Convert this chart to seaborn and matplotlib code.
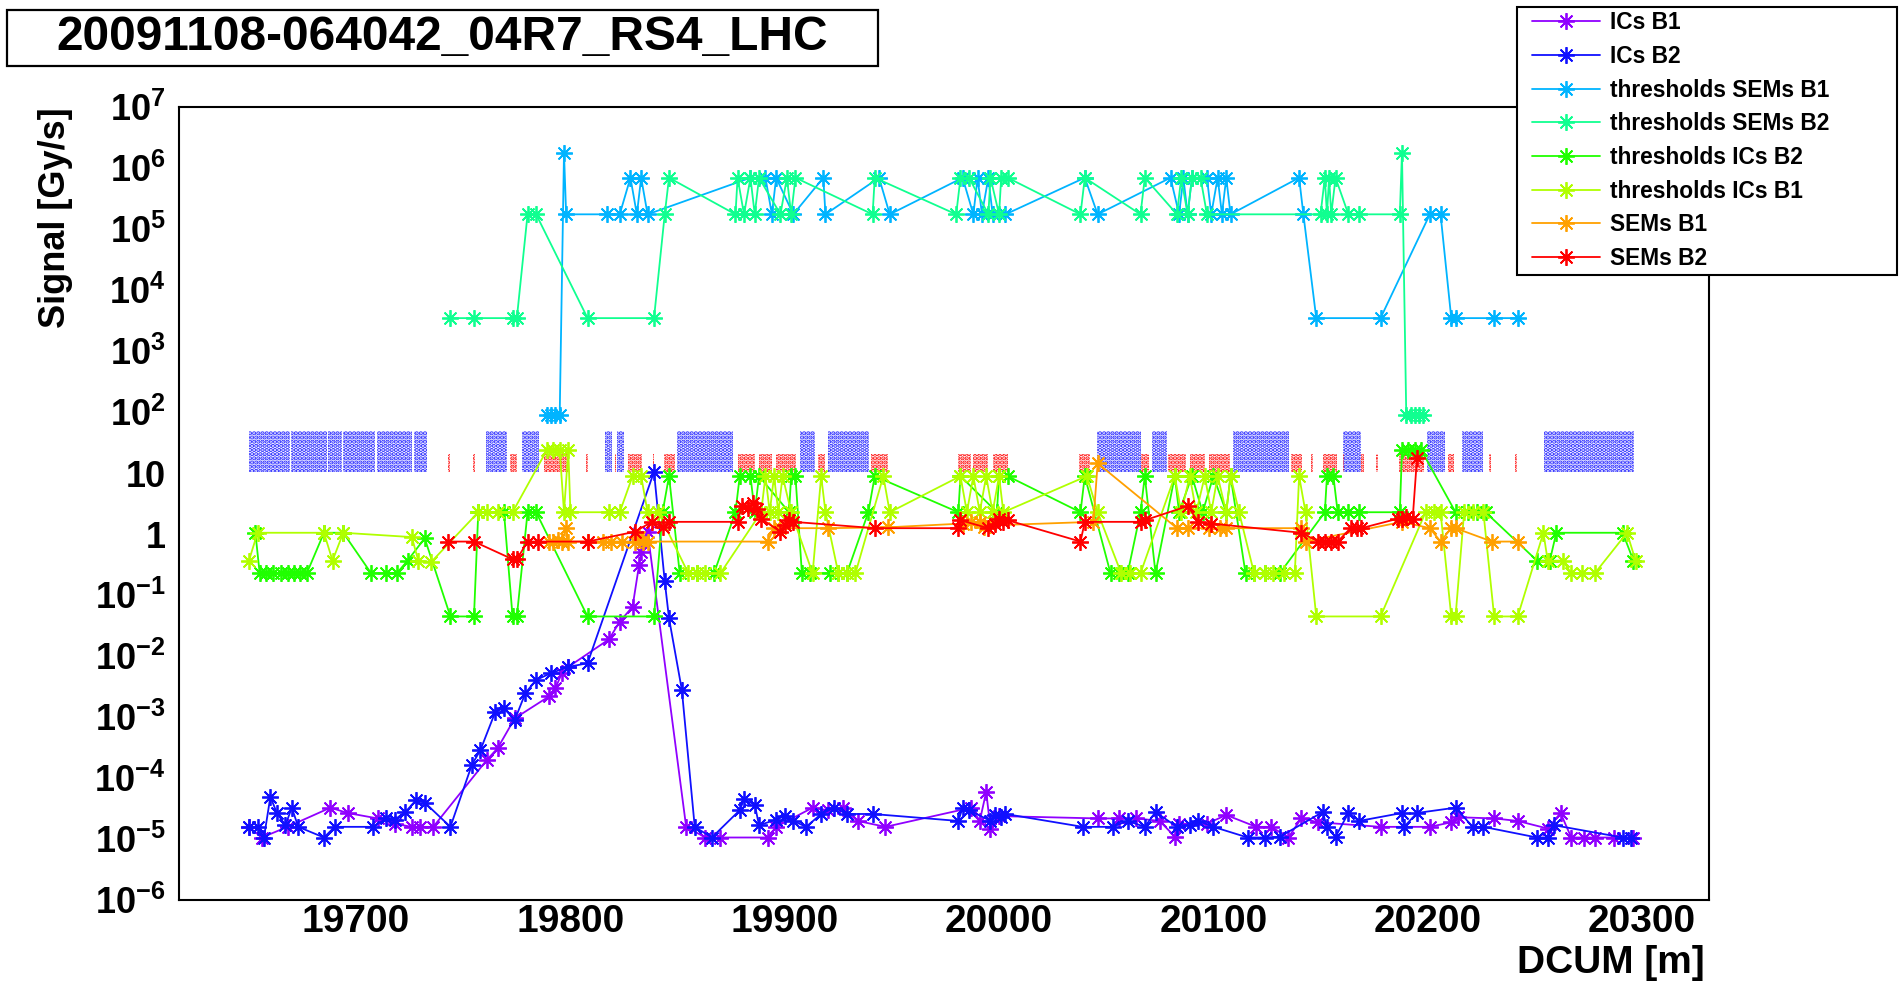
import numpy as np
import pandas as pd
import matplotlib
matplotlib.use("Agg")
import matplotlib.pyplot as plt
import matplotlib.ticker as mticker
from matplotlib.lines import Line2D
from matplotlib.legend_handler import HandlerLine2D
from matplotlib.patches import Rectangle
import seaborn as sns

# ---------------- data ----------------
title_text = "20091108-064042_04R7_RS4_LHC"
x_label = "DCUM [m]"
y_label = "Signal [Gy/s]"

series_names = ["ICs B1", "ICs B2", "thresholds SEMs B1", "thresholds SEMs B2",
                "thresholds ICs B2", "thresholds ICs B1", "SEMs B1", "SEMs B2"]
series_colors = ["#9000ff", "#1010ff", "#00b4ff", "#10ff90",
                 "#20ff00", "#b0ff00", "#ffa000", "#ff0000"]

ics_b1_x = [19650, 19656, 19668, 19688, 19696, 19710, 19718, 19726, 19730, 19736,
            19761, 19766, 19774, 19790, 19793, 19796, 19799, 19818, 19823, 19829,
            19832, 19833, 19836, 19854, 19863, 19870, 19892, 19896, 19913, 19920,
            19927, 19934, 19947, 19987, 19991, 19994, 19996, 20000, 20046, 20056,
            20064, 20075, 20082, 20084, 20097, 20106, 20120, 20127, 20135, 20141,
            20149, 20178, 20201, 20211, 20214, 20231, 20242, 20256, 20262, 20267,
            20273, 20278, 20287, 20296]
ics_b1_y = [1.6e-5, 1.07e-5, 1.6e-5, 3.3e-5, 2.7e-5, 2.2e-5, 1.8e-5, 1.6e-5, 1.6e-5, 1.6e-5,
            2.0e-4, 3.1e-4, 9.6e-4, 2.2e-3, 3.0e-3, 5.3e-3, 6.7e-3, 1.9e-2, 3.7e-2, 6.5e-2,
            0.31, 0.52, 1.1, 1.6e-5, 1.07e-5, 1.07e-5, 1.07e-5, 1.6e-5, 3.3e-5, 3.0e-5,
            3.2e-5, 2.0e-5, 1.6e-5, 3.3e-5, 2.0e-5, 6.0e-5, 1.5e-5, 2.4e-5, 2.2e-5, 2.2e-5,
            2.2e-5, 2.0e-5, 1.1e-5, 1.8e-5, 1.8e-5, 2.5e-5, 1.6e-5, 1.6e-5, 1.07e-5, 2.2e-5,
            1.9e-5, 1.6e-5, 1.6e-5, 1.9e-5, 2.3e-5, 2.2e-5, 2.0e-5, 1.5e-5, 2.7e-5, 1.07e-5,
            1.07e-5, 1.07e-5, 1.07e-5, 1.07e-5]

ics_b2_x = [19650, 19654, 19657, 19660, 19663, 19667, 19670, 19673, 19685, 19690,
            19708, 19714, 19718, 19723, 19728, 19732, 19744, 19754, 19758, 19765,
            19769, 19774, 19779, 19784, 19791, 19799, 19808, 19839, 19844, 19846,
            19852, 19858, 19866, 19879, 19881, 19886, 19888, 19896, 19900, 19904,
            19910, 19917, 19923, 19929, 19941, 19981, 19983, 19986, 19996, 19998,
            20001, 20003, 20039, 20053, 20060, 20068, 20073, 20083, 20089, 20093,
            20100, 20116, 20124, 20131, 20151, 20153, 20157, 20163, 20168, 20188,
            20189, 20195, 20213, 20221, 20226, 20251, 20256, 20259, 20291, 20295]
ics_b2_y = [1.6e-5, 1.6e-5, 1.07e-5, 5.0e-5, 2.7e-5, 1.7e-5, 3.3e-5, 1.6e-5, 1.07e-5, 1.6e-5,
            1.6e-5, 2.2e-5, 2.1e-5, 2.8e-5, 4.4e-5, 4.0e-5, 1.6e-5, 1.66e-4, 2.9e-4, 1.24e-3,
            1.4e-3, 9.0e-4, 2.5e-3, 4.1e-3, 5.3e-3, 6.7e-3, 7.7e-3, 10.6, 0.17, 0.042,
            2.8e-3, 1.6e-5, 1.07e-5, 3.0e-5, 4.5e-5, 3.7e-5, 1.7e-5, 2.1e-5, 2.4e-5, 2.0e-5,
            1.6e-5, 2.6e-5, 3.3e-5, 2.6e-5, 2.6e-5, 2.0e-5, 3.3e-5, 3.0e-5, 2.0e-5, 2.5e-5,
            2.3e-5, 2.6e-5, 1.6e-5, 1.6e-5, 2.0e-5, 1.6e-5, 2.8e-5, 1.6e-5, 1.7e-5, 2.0e-5,
            1.6e-5, 1.07e-5, 1.07e-5, 1.1e-5, 2.8e-5, 1.6e-5, 1.1e-5, 2.7e-5, 2.0e-5, 2.7e-5,
            1.6e-5, 2.7e-5, 3.3e-5, 1.6e-5, 1.6e-5, 1.07e-5, 1.07e-5, 1.7e-5, 1.07e-5, 1.07e-5]

thr_sem_b1_x = [19789, 19791, 19793, 19795, 19797, 19798, 19817, 19823, 19828, 19831,
                19833, 19836, 19884, 19891, 19894, 19896, 19904, 19918, 19919, 19944,
                19949, 19983, 19988, 19990, 19992, 19995, 19997, 20003, 20040, 20046,
                20080, 20084, 20086, 20088, 20090, 20097, 20099, 20102, 20104, 20106,
                20108, 20140, 20142, 20148, 20178, 20201, 20206, 20211, 20213, 20231,
                20242]
thr_sem_b1_y = [92, 92, 92, 92, 1.8e6, 1.76e5, 1.76e5, 1.76e5, 7e5, 1.76e5,
                7e5, 1.76e5, 7e5, 7e5, 1.76e5, 7e5, 1.76e5, 7e5, 1.76e5, 7e5,
                1.76e5, 7e5, 1.76e5, 7e5, 1.76e5, 7e5, 1.76e5, 1.76e5, 7e5, 1.76e5,
                7e5, 1.76e5, 7e5, 1.76e5, 7e5, 7e5, 1.76e5, 7e5, 1.76e5, 7e5,
                1.76e5, 7e5, 1.76e5, 3.5e3, 3.5e3, 1.76e5, 1.76e5, 3.5e3, 3.5e3, 3.5e3,
                3.5e3]

thr_sem_b2_x = [19744, 19755, 19773, 19775, 19780, 19784, 19808, 19839, 19844, 19846,
                19877, 19878, 19881, 19884, 19886, 19888, 19898, 19901, 19903, 19905,
                19941, 19942, 19980, 19982, 19986, 19995, 19996, 20000, 20001, 20004,
                20038, 20040, 20066, 20068, 20083, 20085, 20088, 20090, 20094, 20097,
                20150, 20152, 20153, 20154, 20155, 20157, 20163, 20168, 20187, 20188,
                20190, 20192, 20194, 20196, 20198]
thr_sem_b2_y = [3.5e3, 3.5e3, 3.5e3, 3.5e3, 1.76e5, 1.76e5, 3.5e3, 3.5e3, 1.76e5, 7e5,
                1.76e5, 7e5, 1.76e5, 7e5, 1.76e5, 7e5, 1.76e5, 7e5, 1.76e5, 7e5,
                1.76e5, 7e5, 1.76e5, 7e5, 7e5, 1.76e5, 7e5, 1.76e5, 7e5, 7e5,
                1.76e5, 7e5, 1.76e5, 7e5, 1.76e5, 7e5, 1.76e5, 7e5, 7e5, 1.76e5,
                1.76e5, 7e5, 1.76e5, 7e5, 1.76e5, 7e5, 1.76e5, 1.76e5, 1.76e5, 1.8e6,
                92, 92, 92, 92, 92]

thr_ic_b2_x = [19653, 19655, 19658, 19661, 19665, 19668, 19671, 19674, 19677, 19685,
               19694, 19707, 19714, 19719, 19724, 19732, 19744, 19755, 19757, 19769,
               19773, 19775, 19780, 19784, 19808, 19839, 19843, 19846, 19851, 19859,
               19867, 19877, 19879, 19884, 19886, 19888, 19902, 19903, 19905, 19908,
               19912, 19921, 19925, 19929, 19939, 19942, 19981, 19982, 19999, 20000,
               20004, 20038, 20040, 20052, 20056, 20060, 20066, 20068, 20073, 20082,
               20084, 20090, 20095, 20100, 20106, 20108, 20115, 20119, 20124, 20131,
               20152, 20153, 20156, 20158, 20163, 20168, 20187, 20188, 20191, 20194,
               20197, 20213, 20219, 20223, 20227, 20251, 20257, 20260, 20291, 20296]
thr_ic_b2_y = [1.06, 0.23, 0.23, 0.23, 0.23, 0.23, 0.23, 0.23, 0.23, 1.06,
               1.06, 0.23, 0.23, 0.23, 0.37, 0.86, 0.045, 0.045, 2.3, 2.3,
               0.045, 0.045, 2.3, 2.3, 0.045, 0.045, 2.3, 9, 0.23, 0.23,
               0.23, 2.3, 9, 9, 2.3, 9, 2.3, 9, 9, 0.23,
               0.23, 0.23, 0.23, 0.23, 2.3, 9, 2.3, 9, 2.3, 9,
               9, 2.3, 9, 0.23, 0.23, 0.23, 2.3, 9, 0.23, 9,
               2.3, 9, 2.3, 9, 2.3, 9, 0.23, 0.23, 0.23, 0.23,
               2.3, 9, 9, 2.3, 2.3, 2.3, 2.3, 24, 24, 24,
               24, 2.3, 2.3, 2.3, 2.3, 0.37, 0.37, 1.06, 1.06, 0.37]

thr_ic_b1_x = [19650, 19654, 19685, 19689, 19694, 19726, 19729, 19735, 19757, 19761,
               19766, 19773, 19789, 19792, 19795, 19797, 19799, 19800, 19818, 19823,
               19829, 19833, 19836, 19841, 19855, 19859, 19863, 19870, 19889, 19891,
               19893, 19895, 19897, 19899, 19903, 19913, 19917, 19919, 19925, 19929,
               19933, 19946, 19949, 19982, 19985, 19988, 19991, 19994, 19997, 20000,
               20002, 20041, 20046, 20057, 20061, 20066, 20082, 20085, 20089, 20092,
               20096, 20099, 20102, 20106, 20108, 20112, 20119, 20124, 20128, 20133,
               20138, 20140, 20143, 20148, 20178, 20199, 20203, 20206, 20211, 20213,
               20217, 20221, 20226, 20231, 20242, 20254, 20256, 20263, 20267, 20272,
               20278, 20293, 20297]
thr_ic_b1_y = [0.37, 1.06, 1.06, 0.37, 1.06, 0.9, 0.37, 0.35, 2.3, 2.3,
               2.3, 2.3, 24, 24, 24, 2.3, 24, 2.3, 2.3, 2.3,
               9, 9, 2.3, 2.3, 0.23, 0.23, 0.23, 0.23, 2.3, 9,
               2.3, 9, 2.3, 9, 2.3, 0.23, 9, 2.3, 0.23, 0.23,
               0.23, 9, 2.3, 9, 2.3, 9, 2.3, 9, 2.3, 9,
               2.3, 9, 2.3, 0.23, 0.23, 0.23, 9, 2.3, 9, 2.3,
               9, 2.3, 9, 2.3, 9, 2.3, 0.23, 0.23, 0.23, 0.23,
               0.23, 9, 2.3, 0.045, 0.045, 2.3, 2.3, 2.3, 0.045, 0.045,
               2.3, 2.3, 2.3, 0.045, 0.045, 1.06, 0.37, 0.37, 0.23, 0.23,
               0.23, 1.06, 0.37]

sem_b1_x = [19790, 19792, 19794, 19796, 19798, 19799, 19808, 19815, 19819, 19824,
            19830, 19832, 19834, 19836, 19892, 19895, 19898, 19920, 19948, 19983,
            19987, 19991, 19993, 19996, 20044, 20046, 20083, 20088, 20098, 20103,
            20106, 20141, 20143, 20188, 20201, 20206, 20211, 20213, 20230, 20242]
sem_b1_y = [0.76, 0.76, 0.8, 0.76, 1.26, 0.76, 0.76, 0.76, 0.76, 0.76,
            0.76, 0.9, 0.76, 0.76, 0.76, 1.26, 1.26, 1.26, 1.3, 1.5,
            1.6, 1.6, 1.3, 1.4, 1.6, 14.6, 1.26, 1.26, 1.26, 1.26,
            1.26, 1.26, 0.76, 1.6, 1.26, 0.76, 1.26, 1.26, 0.76, 0.76]

sem_b2_x = [19743, 19755, 19773, 19775, 19780, 19785, 19808, 19830, 19838, 19843,
            19846, 19878, 19880, 19883, 19885, 19887, 19889, 19898, 19900, 19902,
            19904, 19942, 19981, 19982, 19995, 19998, 20000, 20002, 20004, 20038,
            20040, 20066, 20068, 20088, 20093, 20099, 20141, 20149, 20152, 20155,
            20158, 20164, 20167, 20169, 20186, 20188, 20190, 20193, 20195]
sem_b2_y = [0.76, 0.76, 0.39, 0.39, 0.76, 0.76, 0.76, 1.1, 1.6, 1.3,
            1.6, 1.6, 2.9, 2.7, 3.2, 2.6, 1.8, 1.1, 1.4, 1.7,
            1.6, 1.26, 1.26, 1.7, 1.26, 1.5, 1.8, 1.6, 1.7, 0.76,
            1.6, 1.6, 1.7, 2.9, 1.6, 1.5, 1.06, 0.76, 0.76, 0.76,
            0.76, 1.26, 1.26, 1.26, 1.8, 1.8, 1.9, 1.8, 17.6]

series_x = [ics_b1_x, ics_b2_x, thr_sem_b1_x, thr_sem_b2_x,
            thr_ic_b2_x, thr_ic_b1_x, sem_b1_x, sem_b2_x]
series_y = [ics_b1_y, ics_b2_y, thr_sem_b1_y, thr_sem_b2_y,
            thr_ic_b2_y, thr_ic_b1_y, sem_b1_y, sem_b2_y]

# dotted status boxes (DCUM ranges)
blue_box_start = [19650, 19669.5, 19687, 19694, 19709.6, 19727, 19760.5, 19777.5, 19816.3,
                  19821.7, 19849.6, 19907, 19920, 20045.7, 20071.3, 20109.3, 20160.7,
                  20199.9, 20216.2, 20254.5]
blue_box_end = [19669, 19686.5, 19693.5, 19709, 19726, 19733, 19770.6, 19785.3, 19819.4,
                19824.8, 19876, 19914, 19939.5, 20066, 20078.2, 20135.4, 20168.9,
                20208, 20226, 20296.2]
blue_box_low, blue_box_high = 10.5, 50.0

red_box_start = [19743, 19754.7, 19772, 19787.6, 19807.5, 19820.7, 19827, 19838.5, 19843.8,
                 19878, 19888, 19896, 19915.5, 19940.3, 19981, 19988, 19997, 20037.2,
                 20066, 20079, 20089, 20098, 20136.3, 20145.7, 20151, 20160.5, 20169,
                 20176, 20186.8, 20209.7, 20228.8, 20240.7]
red_box_end = [19744, 19755.6, 19775.2, 19799.3, 19808.3, 19821.3, 19833.4, 19839.2, 19848.8,
               19886, 19894, 19905.4, 19918.6, 19948, 19987, 19995, 20004, 20042.6,
               20070, 20087, 20096, 20107.7, 20141.2, 20146.3, 20157.5, 20161, 20170.5,
               20176.6, 20198.3, 20212.1, 20229.4, 20241.5]
red_box_low, red_box_high = 10.5, 21.0

# ---------------- style ----------------
sns.set_theme(style="white")
plt.rcParams["font.family"] = ["Liberation Sans", "DejaVu Sans"]
plt.rcParams["font.weight"] = "bold"
plt.rcParams["mathtext.fontset"] = "custom"
plt.rcParams["mathtext.rm"] = "Liberation Sans:bold"
plt.rcParams["mathtext.bf"] = "Liberation Sans:bold"
plt.rcParams["mathtext.default"] = "rm"
for k in ["text.color", "axes.labelcolor", "xtick.color", "ytick.color", "axes.edgecolor"]:
    plt.rcParams[k] = "black"
plt.rcParams["hatch.linewidth"] = 2.2

W, H = 1901, 988
fig = plt.figure(figsize=(W / 100, H / 100), dpi=100)
fig.patch.set_facecolor("white")
ax_l, ax_r, ax_t, ax_b = 179.3, 1709.3, 107.3, 900.3
ax = fig.add_axes([ax_l / W, 1 - ax_b / H, (ax_r - ax_l) / W, (ax_b - ax_t) / H])
ax.set_facecolor("white")

# status boxes
bs = np.array(blue_box_start); be = np.array(blue_box_end)
ax.bar(bs, blue_box_high - blue_box_low, width=be - bs, bottom=blue_box_low, align="edge",
       facecolor="none", edgecolor="#2828ff", linewidth=0, hatch="....", zorder=1)
rs = np.array(red_box_start); re_ = np.array(red_box_end)
ax.bar(rs, red_box_high - red_box_low, width=re_ - rs, bottom=red_box_low, align="edge",
       facecolor="none", edgecolor="#ff1010", linewidth=0, hatch="....", zorder=1.1)

star = (8, 2, 0)
handles = []
for name, col, xs, ys in zip(series_names, series_colors, series_x, series_y):
    df = pd.DataFrame({"DCUM": xs, "signal": ys})
    n_before = len(ax.lines)
    sns.lineplot(data=df, x="DCUM", y="signal", ax=ax, sort=False, estimator=None,
                 color=col, linewidth=1.3, marker=star, markersize=12,
                 markeredgecolor=col, markeredgewidth=1.3, label=name, legend=False,
                 zorder=3)
    handles.append(ax.lines[n_before])

ax.set_yscale("log")
ax.set_ylim(1e-6, 1e7)
ax.set_xlim(19617.5, 20331.4)

ax.xaxis.set_major_locator(mticker.MultipleLocator(100))
ax.xaxis.set_minor_locator(mticker.MultipleLocator(20))
ax.yaxis.set_major_locator(mticker.LogLocator(base=10, numticks=30))
ax.yaxis.set_minor_locator(mticker.LogLocator(base=10, subs=np.arange(2, 10), numticks=30))

def yfmt(v, pos):
    e = int(round(np.log10(v)))
    if e == 0:
        return "1"
    if e == 1:
        return "10"
    return r"$10^{%d}$" % e
ax.yaxis.set_major_formatter(mticker.FuncFormatter(yfmt))
ax.yaxis.set_minor_formatter(mticker.NullFormatter())

ax.tick_params(axis="both", which="both", direction="in", top=False, right=False,
               width=1.1, colors="black")
ax.tick_params(axis="y", which="major", length=34, pad=10, labelsize=26)
ax.tick_params(axis="y", which="minor", length=16.5)
ax.tick_params(axis="x", which="major", length=16.5, pad=3, labelsize=28)
ax.tick_params(axis="x", which="minor", length=8.6)
for lab in ax.get_xticklabels() + ax.get_yticklabels():
    lab.set_fontweight("bold")
for sp in ax.spines.values():
    sp.set_visible(True)
    sp.set_color("black")
    sp.set_linewidth(1.5)

ax.set_xlabel(x_label, loc="right", fontsize=28, fontweight="bold")
ax.xaxis.set_label_coords((1705 - ax_l) / (ax_r - ax_l), (ax_b - 945) / (ax_b - ax_t))
ax.set_ylabel(y_label, loc="top", fontsize=26, fontweight="bold")
ax.yaxis.set_label_coords((73 - ax_l) / (ax_r - ax_l), 1.0)

# title pave
fig.add_artist(Rectangle((7 / W, 1 - 66 / H), 871 / W, 56 / H, transform=fig.transFigure,
                         facecolor="white", edgecolor="black", linewidth=1.6, zorder=-1))
ax.set_title(title_text, x=(442.5 - ax_l) / (ax_r - ax_l), y=(ax_b - 38) / (ax_b - ax_t),
             va="center", ha="center", fontsize=34.5, fontweight="bold", pad=0)

# legend
fs_leg = 16.4
fs_px = fs_leg * 100 / 72
lx0, lx1, ly0, ly1 = 1516.7, 1897, 6.7, 275
bp = 4.5 / fs_px
leg = ax.legend(handles=handles, labels=series_names, loc="upper left",
                bbox_to_anchor=(lx0 / W, 1 - ly1 / H, (lx1 - lx0) / W, (ly1 - ly0) / H),
                bbox_transform=fig.transFigure, mode="expand", borderaxespad=0,
                prop={"size": fs_leg, "weight": "bold"}, frameon=True, fancybox=False,
                framealpha=1, edgecolor="black", borderpad=bp,
                labelspacing=0.47, handlelength=(1600 - lx0 - 4.5) / fs_px,
                handletextpad=0.45,
                handler_map={Line2D: HandlerLine2D(numpoints=1, xpad=10.5 / fs_px)})
leg.get_frame().set_linewidth(1.5)
leg.set_zorder(10)

fig.savefig("out.png", dpi=100, facecolor="white")
